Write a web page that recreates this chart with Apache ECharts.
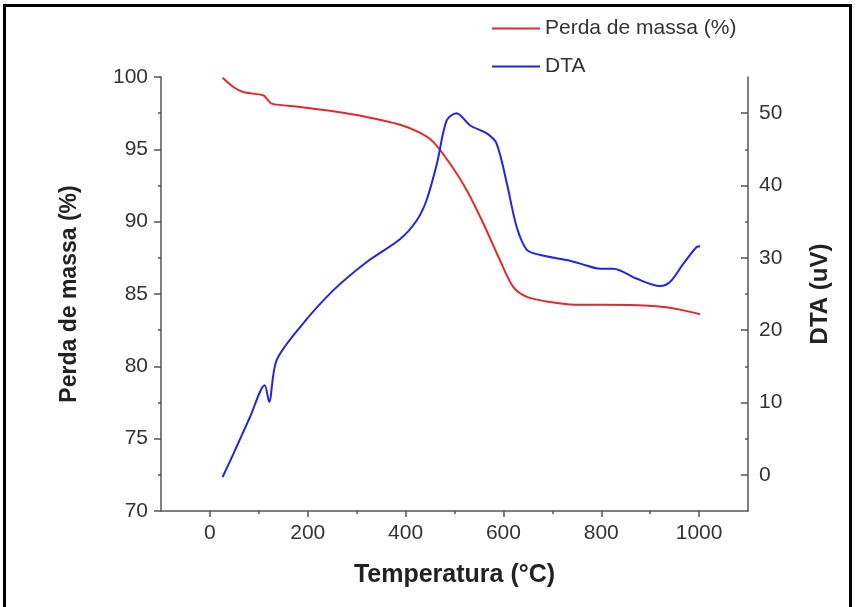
<!DOCTYPE html>
<html>
<head>
<meta charset="utf-8">
<script src="https://cdn.jsdelivr.net/npm/echarts@6/dist/echarts.min.js"></script>
<style>
  html, body { margin: 0; padding: 0; background: #fff; }
  #frame {
    position: absolute; left: 3px; top: 4px; width: 849px; height: 603px;
    border: 3px solid #000; border-bottom: none; box-sizing: border-box;
  }
  #chart { position: absolute; left: 0; top: 0; width: 858px; height: 607px; }
</style>
</head>
<body>
<div id="frame"></div>
<div id="chart"></div>
<script>
// Perda de massa (%) vs temperatura
const tempMass = [26, 48, 68, 109, 116, 126, 184, 252, 320, 389, 429, 457, 491, 525, 559, 593, 620, 648, 695, 757, 798, 913, 961, 1002];
const mass = [99.95, 99.31, 98.96, 98.74, 98.5, 98.16, 97.93, 97.63, 97.24, 96.7, 96.15, 95.5, 94.0, 92.17, 89.87, 87.33, 85.49, 84.8, 84.45, 84.25, 84.25, 84.15, 83.92, 83.6];

// DTA (uV) vs temperatura
const tempDta = [26, 48, 82, 112, 121, 136, 184, 252, 320, 389, 423, 443, 464, 484, 504, 532, 566, 586, 607, 627, 648, 675, 729, 757, 798, 825, 873, 920, 941, 968, 995, 1002];
const dta = [-0.3, 2.9, 8.0, 12.4, 10.1, 15.8, 20.4, 25.5, 29.4, 32.6, 35.2, 38.0, 43.0, 49.0, 50.0, 48.3, 47.2, 45.8, 40.3, 34.3, 31.1, 30.4, 29.7, 29.2, 28.5, 28.5, 27.1, 26.1, 26.7, 29.2, 31.5, 31.6];

// ticks
const xMajor = [0, 200, 400, 600, 800, 1000];
const xMinor = [100, 300, 500, 700, 900];
const dtaMajor = [0, 10, 20, 30, 40, 50];
const dtaMinor = [5, 15, 25, 35, 45];

const axisColor = '#555';
const labelStyle = { fontFamily: 'Liberation Sans', fontSize: 21, color: '#333' };
const nameStyle = { fontFamily: 'Liberation Sans', fontWeight: 'bold', color: '#222' };
const plain = (v) => String(v);

const chart = echarts.init(document.getElementById('chart'));
chart.setOption({
  animation: false,
  legend: {
    orient: 'vertical',
    left: 487,
    top: 13,
    icon: 'rect',
    itemWidth: 48,
    itemHeight: 2,
    itemGap: 17,
    textStyle: { fontFamily: 'Liberation Sans', fontSize: 21, color: '#333' },
    data: ['Perda de massa (%)', 'DTA']
  },
  grid: { left: 161, right: 110, top: 77, bottom: 96 },
  xAxis: [
    {
      type: 'value', min: -100, max: 1100, position: 'bottom',
      name: 'Temperatura (°C)', nameLocation: 'middle', nameGap: 52,
      nameTextStyle: Object.assign({ fontSize: 25 }, nameStyle),
      axisLine: { onZero: false, lineStyle: { color: axisColor, width: 1.5 } },
      axisTick: { customValues: xMajor, length: 6, lineStyle: { color: axisColor, width: 1.5 } },
      axisLabel: Object.assign({ customValues: xMajor, margin: 12, formatter: plain }, labelStyle),
      splitLine: { show: false }
    },
    {
      type: 'value', min: -100, max: 1100, position: 'bottom',
      axisLine: { show: false, onZero: false },
      axisTick: { customValues: xMinor, length: 3, lineStyle: { color: axisColor, width: 1.5 } },
      axisLabel: { show: false },
      splitLine: { show: false }
    }
  ],
  yAxis: [
    {
      type: 'value', min: 70, max: 100, interval: 5, position: 'left',
      name: 'Perda de massa (%)', nameLocation: 'middle', nameGap: 80, nameRotate: 90,
      nameTextStyle: Object.assign({ fontSize: 23 }, nameStyle),
      axisLine: { show: true, onZero: false, lineStyle: { color: axisColor, width: 1.5 } },
      axisTick: { show: true, length: 7, lineStyle: { color: axisColor, width: 1.5 } },
      minorTick: { show: true, splitNumber: 2, length: 3, lineStyle: { color: axisColor, width: 1.5 } },
      axisLabel: Object.assign({ margin: 13 }, labelStyle),
      splitLine: { show: false }
    },
    {
      type: 'value', min: -5, max: 55, position: 'right',
      name: 'DTA (uV)', nameLocation: 'middle', nameGap: 60, nameRotate: 90,
      nameTextStyle: Object.assign({ fontSize: 24 }, nameStyle),
      axisLine: { show: true, onZero: false, lineStyle: { color: axisColor, width: 1.5 } },
      axisTick: { show: true, inside: true, customValues: dtaMajor, length: 7, lineStyle: { color: axisColor, width: 1.5 } },
      axisLabel: Object.assign({ customValues: dtaMajor, margin: 11 }, labelStyle),
      splitLine: { show: false }
    },
    {
      type: 'value', min: -5, max: 55, position: 'right',
      axisLine: { show: false, onZero: false },
      axisTick: { show: true, inside: true, customValues: dtaMinor, length: 3, lineStyle: { color: axisColor, width: 1.5 } },
      axisLabel: { show: false },
      splitLine: { show: false }
    }
  ],
  series: [
    {
      name: 'Perda de massa (%)',
      type: 'line',
      xAxisIndex: 0, yAxisIndex: 0,
      symbol: 'none',
      smooth: 0.3,
      lineStyle: { color: '#e5282e', width: 2 },
      itemStyle: { color: '#e5282e' },
      data: tempMass.map((t, i) => [t, mass[i]])
    },
    {
      name: 'DTA',
      type: 'line',
      xAxisIndex: 0, yAxisIndex: 1,
      symbol: 'none',
      smooth: 0.3,
      lineStyle: { color: '#2424e0', width: 2 },
      itemStyle: { color: '#2424e0' },
      data: tempDta.map((t, i) => [t, dta[i]])
    }
  ]
});
</script>
</body>
</html>
